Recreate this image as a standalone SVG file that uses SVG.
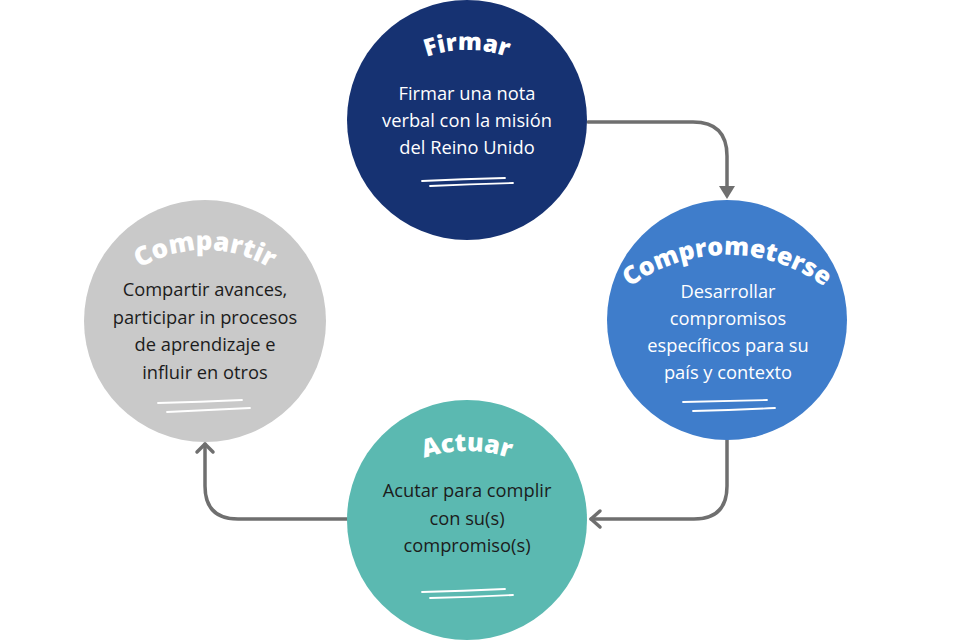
<svg xmlns="http://www.w3.org/2000/svg" width="960" height="640" viewBox="0 0 960 640">
<style>
.title{font-family:"Open Sans","Noto Sans",sans-serif;font-weight:800;fill:#ffffff;text-anchor:middle}
.body{font-family:"Open Sans","Noto Sans",sans-serif;font-size:18.3px;text-anchor:middle}
.light{fill:#ffffff}
.dark{fill:#1c1c1c}
.ul{fill:none;stroke:#ffffff;stroke-width:1.8;stroke-linecap:round}
.conn{fill:none;stroke:#6f6f6f;stroke-width:3.5;stroke-linecap:round;stroke-linejoin:round}
</style>
<defs>
<path id="arcFirmar" d="M347,170 A120,120 0 0 1 587,170"/>
<path id="arcComp" d="M563,419 A164,164 0 0 1 891,419"/>
<path id="arcShare" d="M79,376 A126,126 0 0 1 331,376"/>
<path id="arcAct" d="M334,584 A133,133 0 0 1 600,584"/>
</defs>
<rect width="960" height="640" fill="#ffffff"/>
<g id="connectors">
<path class="conn" d="M588,122 H693 Q727,122 727,156 V188"/>
<path d="M719,186 L735,186 L727,199 Z" fill="#6f6f6f"/>
<path class="conn" d="M727,440 V486 Q727,519 694,519 H591"/>
<path class="conn" d="M600,511 L591,519 L600,527"/>
<path class="conn" d="M347,519 H238 Q205,519 205,486 V444"/>
<path class="conn" d="M197,452 L205,444 L213,452"/>
</g>
<g id="node-firmar">
<circle cx="467" cy="120" r="120" fill="#163272"/>
<text class="title" font-size="24"><textPath href="#arcFirmar" startOffset="50%">Firmar</textPath></text>
<text class="body light" x="467" y="100">Firmar una nota</text>
<text class="body light" x="467" y="127">verbal con la misión</text>
<text class="body light" x="467" y="154">del Reino Unido</text>
<path class="ul" d="M422,181 Q463,179 505,178"/>
<path class="ul" d="M430,186 Q471,184 513,183"/>
</g>
<g id="node-comprometerse">
<circle cx="727" cy="320" r="120" fill="#3f7dcb"/>
<text class="title" font-size="25"><textPath href="#arcComp" startOffset="50%">Comprometerse</textPath></text>
<text class="body light" x="728" y="298">Desarrollar</text>
<text class="body light" x="728" y="325">compromisos</text>
<text class="body light" x="728" y="352">específicos para su</text>
<text class="body light" x="728" y="379">país y contexto</text>
<path class="ul" d="M683,402 Q725,401 767,400"/>
<path class="ul" d="M693,411 Q734,410 775,408"/>
</g>
<g id="node-compartir">
<circle cx="205" cy="321" r="121" fill="#c9c9c9"/>
<text class="title" font-size="26"><textPath href="#arcShare" startOffset="50%">Compartir</textPath></text>
<text class="body dark" x="205" y="296">Compartir avances,</text>
<text class="body dark" x="205" y="324">participar in procesos</text>
<text class="body dark" x="205" y="351">de aprendizaje e</text>
<text class="body dark" x="205" y="379">influir en otros</text>
<path class="ul" d="M158,403 Q200,402 242,400"/>
<path class="ul" d="M167,412 Q209,410 250,408"/>
</g>
<g id="node-actuar">
<circle cx="467" cy="520" r="120" fill="#5bb9b1"/>
<text class="title" font-size="25"><textPath href="#arcAct" startOffset="50%">Actuar</textPath></text>
<text class="body dark" x="467" y="497">Acutar para complir</text>
<text class="body dark" x="467" y="525">con su(s)</text>
<text class="body dark" x="467" y="552">compromiso(s)</text>
<path class="ul" d="M422,592 Q463,591 505,589"/>
<path class="ul" d="M430,598 Q471,597 513,595"/>
</g>
</svg>
